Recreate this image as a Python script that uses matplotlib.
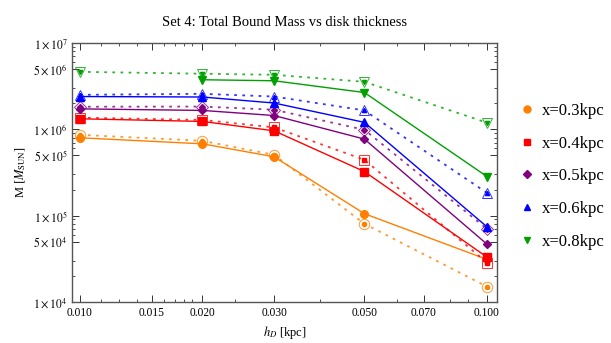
import numpy as np
from matplotlib import pyplot as plt
from matplotlib.lines import Line2D
from matplotlib.ticker import FixedLocator, NullFormatter

plt.rcParams['font.family'] = ['Liberation Serif', 'DejaVu Serif']
plt.rcParams['mathtext.fontset'] = 'stix'

# disk thickness h_D [kpc]
h_d = [0.010, 0.020, 0.030, 0.050, 0.100]
x_labels = ['x=0.3kpc', 'x=0.4kpc', 'x=0.5kpc', 'x=0.6kpc', 'x=0.8kpc']
colors = ['#FF8000', '#FF0000', '#800080', '#0000FF', '#00A000']
markers = ['o', 's', 'D', '^', 'v']

# total bound mass, solid curves (filled markers)
m_03 = [7.95e5, 6.77e5, 4.79e5, 1.05e5, 3.1e4]
m_04 = [1.32e6, 1.23e6, 9.58e5, 3.23e5, 3.3e4]
m_05 = [1.72e6, 1.65e6, 1.44e6, 7.68e5, 4.66e4]
m_06 = [2.39e6, 2.36e6, 2.01e6, 1.20e6, 7.40e4]
m_08 = [np.nan, 3.74e6, 3.64e6, 2.66e6, 2.83e5]

# dotted curves (open markers)
m_03_b = [8.61e5, 7.34e5, 5.05e5, 8.01e4, 1.50e4]
m_04_b = [1.36e6, 1.28e6, 1.05e6, 4.42e5, 2.85e4]
m_05_b = [1.82e6, 1.83e6, 1.68e6, 9.84e5, 7.01e4]
m_06_b = [2.50e6, 2.57e6, 2.39e6, 1.65e6, 1.83e5]
m_08_b = [4.62e6, 4.39e6, 4.27e6, 3.54e6, 1.19e6]

solid = [m_03, m_04, m_05, m_06, m_08]
dotted = [m_03_b, m_04_b, m_05_b, m_06_b, m_08_b]

fig = plt.figure(figsize=(6.11, 3.43), dpi=100)
ax = fig.add_axes([0.118, 0.12, 0.695, 0.755])

handles = []
for i in range(5):
    c = colors[i]
    mk = markers[i]
    ms = 5.5 if mk != 'D' else 4.5
    ax.plot(h_d, dotted[i], linestyle=(0, (1.5, 3)), color=c, lw=1.3, alpha=0.8,
            marker=mk, markersize=ms + 2, markerfacecolor='none',
            markeredgecolor=c, markeredgewidth=0.7)
    ax.plot(h_d, dotted[i], linestyle='none', marker=mk, markersize=3, color=c)
    ax.plot(h_d, solid[i], '-', color=c, lw=1.0, marker=mk, markersize=ms)
    handles.append(Line2D([], [], linestyle='none', marker=mk, color=c,
                          markersize=5 if mk != 'D' else 4.2, label=x_labels[i]))

ax.set_xscale('log')
ax.set_yscale('log')
ax.set_xlim(0.00957, 0.1057)
ax.set_ylim(1e4, 1e7)

xt = [0.010, 0.015, 0.020, 0.030, 0.050, 0.070, 0.100]
ax.xaxis.set_major_locator(FixedLocator(xt))
ax.set_xticklabels(['%.3f' % v for v in xt])
ax.xaxis.set_minor_locator(FixedLocator([0.0113, 0.0125, 0.0138, 0.0161, 0.0171, 0.018,
                                         0.0189, 0.024, 0.039, 0.06, 0.081, 0.09]))
ax.xaxis.set_minor_formatter(NullFormatter())

yt = [1e4, 5e4, 1e5, 5e5, 1e6, 5e6, 1e7]
ax.yaxis.set_major_locator(FixedLocator(yt))
ax.set_yticklabels([r'$1\times10^{4}$', r'$5\times10^{4}$', r'$1\times10^{5}$',
                    r'$5\times10^{5}$', r'$1\times10^{6}$', r'$5\times10^{6}$',
                    r'$1\times10^{7}$'])
ymin = []
for d in [1e4, 1e5, 1e6]:
    for k in [2, 3, 6, 7, 8, 9]:
        ymin.append(k * d)
ax.yaxis.set_minor_locator(FixedLocator(ymin))
ax.yaxis.set_minor_formatter(NullFormatter())

ax.tick_params(which='both', direction='in', top=True, right=True, labelsize=8.3,
               color='#333333')
ax.tick_params(which='major', length=5, width=0.7)
ax.tick_params(which='minor', length=2.5, width=0.6)
for s in ax.spines.values():
    s.set_color('#555555')
    s.set_linewidth(1.0)

ax.set_xlabel(r'$h_D$ [kpc]', fontsize=9)
ax.set_ylabel(r'M $[M_{\rm SUN}]$', fontsize=9)
ax.set_title('Set 4: Total Bound Mass vs disk thickness', fontsize=10.5, pad=12)

ax.legend(handles=handles, loc='center left', bbox_to_anchor=(1.02, 0.485),
          frameon=False, fontsize=12, handlelength=0.8, handletextpad=0.5,
          labelspacing=1.0)

fig.savefig('out.png', dpi=100)
